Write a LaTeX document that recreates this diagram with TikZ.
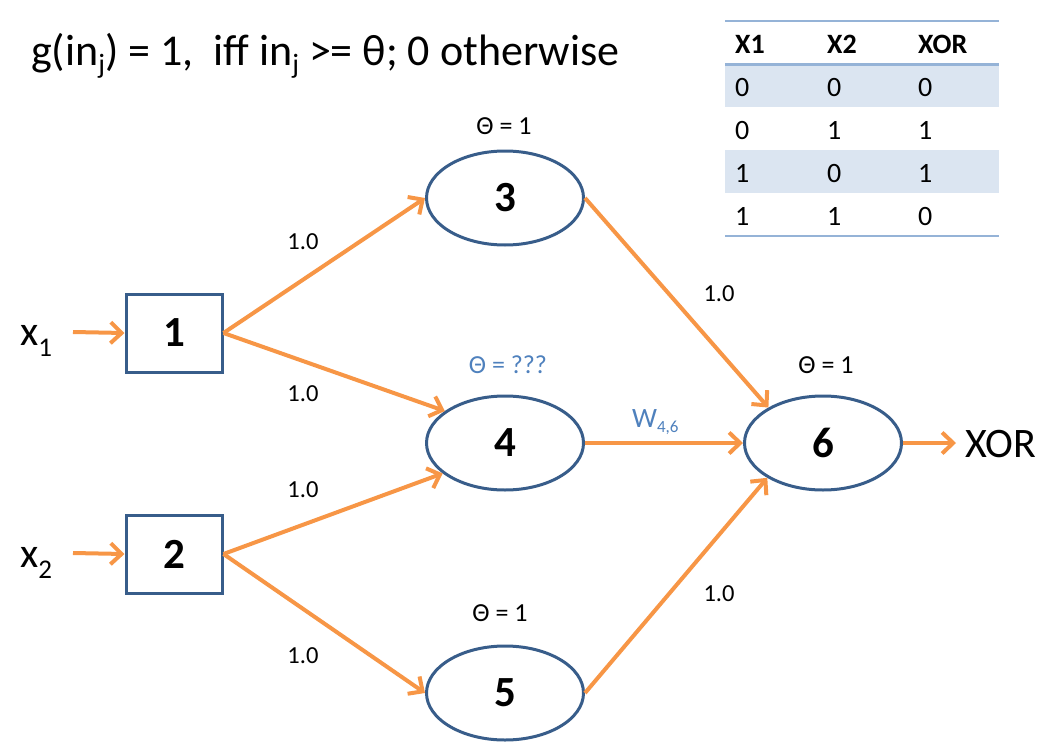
\documentclass[tikz,border=0pt]{standalone}
\usepackage{fontspec}
\setmainfont{Carlito}
\usetikzlibrary{arrows.meta,shapes.geometric}
\definecolor{edgeorange}{HTML}{F79646}
\definecolor{nodeblue}{HTML}{385D8A}
\definecolor{labelblue}{HTML}{4F81BD}
\definecolor{bandblue}{HTML}{DBE5F1}
\definecolor{ruleblue}{HTML}{95B3D7}
% lowered, smaller text for subscripts: drop, size, text
\newcommand\subtxt[3]{\raisebox{-#1}{\fontsize{#2}{#2}\selectfont #3}}
\newcommand\fs[1]{\fontsize{#1}{#1}\selectfont}
\begin{document}
\begin{tikzpicture}[x=1pt,y=-1pt,
  unit/.style={ellipse, draw=nodeblue, line width=3pt, minimum width=157pt,
    minimum height=94pt, inner sep=0pt, font=\fs{43}\bfseries},
  inbox/.style={rectangle, draw=nodeblue, line width=3pt, minimum width=96pt,
    minimum height=78pt, inner sep=0pt, font=\fs{43}\bfseries},
  link/.style={draw=edgeorange, line width=4pt,
    -{Straight Barb[length=11pt,width=21pt,line width=4pt]}},
  wlabel/.style={anchor=base, inner sep=0pt, font=\fs{24.5}},
  theta/.style={anchor=base, inner sep=0pt, font=\fs{26}},
  bigtext/.style={anchor=base west, inner sep=0pt, font=\fs{42}},
  cell/.style={anchor=base west, inner sep=0pt, font=\fs{28}},
  head/.style={cell, font=\fs{28}\bfseries},
  rulethin/.style={draw=ruleblue, line width=2pt},
  rulethick/.style={draw=ruleblue, line width=3pt}]
\useasboundingbox (0,0) rectangle (1046,752);

% threshold rule
\node[anchor=base west, inner sep=0pt, font=\fs{44}] (rule) at (31,66)
  {g(in\subtxt{8pt}{28}{j}) = 1,\ \ iff in\subtxt{8pt}{28}{j} >= θ; 0 otherwise};

% truth table
\fill[bandblue] (725,65) rectangle (999,107);
\fill[bandblue] (725,150) rectangle (999,193);
\draw[rulethin] (725,21) -- (999,21);
\draw[rulethick] (725,65) -- (999,65);
\draw[rulethin] (725,236) -- (999,236);
\node[head] (hx1) at (735,53) {X1};
\node[head] (hx2) at (827,53) {X2};
\node[head] (hxor) at (918,53) {XOR};
\node[cell] (a1) at (735,96) {0};  \node[cell] (b1) at (827,96) {0};  \node[cell] (c1) at (918,96) {0};
\node[cell] (a2) at (735,139) {0}; \node[cell] (b2) at (827,139) {1}; \node[cell] (c2) at (918,139) {1};
\node[cell] (a3) at (735,182) {1}; \node[cell] (b3) at (827,182) {0}; \node[cell] (c3) at (918,182) {1};
\node[cell] (a4) at (735,225) {1}; \node[cell] (b4) at (827,225) {1}; \node[cell] (c4) at (918,225) {0};

% network
\node[inbox] (n1) at (174,333) {1};
\node[inbox] (n2) at (174,554) {2};
\node[unit] (n3) at (505,198) {3};
\node[unit] (n4) at (505,443) {4};
\node[unit] (n5) at (505,693) {5};
\node[unit] (n6) at (823,443) {6};

% inputs and output
\node[bigtext] (x1) at (20,345) {x\subtxt{11pt}{27}{1}};
\node[bigtext] (x2) at (20,567) {x\subtxt{11pt}{27}{2}};
\coordinate (in1) at (73,332);
\coordinate (in2) at (73,553);
\coordinate (out) at (956,443);
\node[bigtext] (xor) at (965,457) {XOR};

\draw[link] (in1) -- (n1.west);
\draw[link] (in2) -- (n2.west);
\draw[link] (n6.east) -- (out);

% weighted connections
\draw[link] (n1.east) -- (n3.180);
\draw[link] (n1.east) -- (n4.152);
\draw[link] (n2.east) -- (n4.206);
\draw[link] (n2.east) -- (n5.180);
\draw[link] (n3.east) -- (n6.147);
\draw[link] (n4.east) -- (n6.west);
\draw[link] (n5.east) -- (n6.212);

% weights
\node[wlabel] (w13) at (303,249) {1.0};
\node[wlabel] (w14) at (303,401) {1.0};
\node[wlabel] (w24) at (303,497) {1.0};
\node[wlabel] (w25) at (303,663) {1.0};
\node[wlabel] (w36) at (719,301) {1.0};
\node[wlabel] (w56) at (719,601) {1.0};
\node[anchor=base west, inner sep=0pt, font=\fs{28}, text=labelblue] (w46) at (632,427)
  {W\subtxt{5pt}{17}{4,6}};

% thresholds
\node[theta] (t3) at (504,134) {Θ = 1};
\node[theta, text=labelblue] (t4) at (508,373) {Θ = ???};
\node[theta] (t5) at (500,621) {Θ = 1};
\node[theta] (t6) at (826,373) {Θ = 1};
\end{tikzpicture}
\end{document}
